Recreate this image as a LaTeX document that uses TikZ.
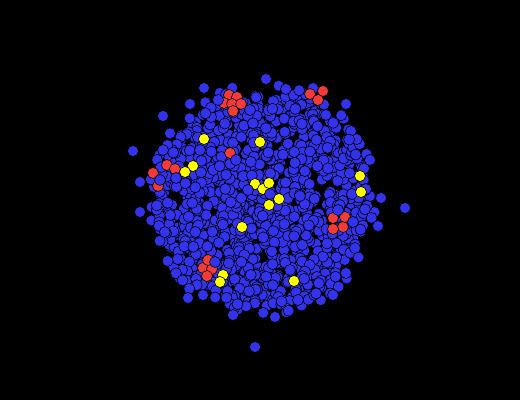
\documentclass[tikz,border=0pt]{standalone}
\definecolor{nodeblue}{RGB}{51,51,238}
\definecolor{nodered}{RGB}{245,58,58}
\definecolor{nodeyellow}{RGB}{255,255,0}
\tikzset{
  vtx/.style={circle, draw=black, line width=0.6pt, minimum size=11pt, inner sep=0pt},
  bvtx/.style={vtx, fill=nodeblue},
  rvtx/.style={vtx, fill=nodered},
  yvtx/.style={vtx, fill=nodeyellow}
}

\begin{document}
\begin{tikzpicture}[x=1pt,y=-1pt]
        \fill[black] (0,0) rectangle (520,400);
        % main cloud
        \pgfmathsetseed{7}
        \foreach \i in {1,...,1100}{
            \pgfmathsetmacro{\ang}{360*rnd}
            \pgfmathsetmacro{\rad}{sqrt(rnd)}
            \node[bvtx] (b\i) at ({263+104*\rad*cos(\ang)},{200+106*\rad*sin(\ang)}) {};
        }
        % ragged rim
        \foreach \i in {1,...,110}{
            \pgfmathsetmacro{\ang}{360*rnd}
            \pgfmathsetmacro{\rad}{0.97+0.13*rnd}
            \node[bvtx] (e\i) at ({263+104*\rad*cos(\ang)},{200+106*\rad*sin(\ang)}) {};
        }
        % outliers
        \foreach \x/\y [count=\j] in {133/151, 405/208, 255/347, 204/88, 266/79, 346/104, 140/182,
            381/198, 378/226, 140/212, 190/104, 370/160, 333/295, 298/300, 275/317, 233/315,
            188/298, 203/295, 163/116, 346/273, 355/248, 163/150, 313/88, 286/89}{
            \node[bvtx] (o\j) at (\x,\y) {};
        }
        % red groups
        \foreach \x/\y [count=\j] in {229/95, 237/97, 224/103, 232/104, 241/104, 233/111,
            310/94, 323/91, 318/100, 230/153, 153/173, 158/186, 167/165, 175/169,
            203/268, 212/269, 207/276, 208/260, 333/218, 343/227, 333/229, 345/217}{
            \node[rvtx] (r\j) at (\x,\y) {};
        }
        % yellow groups
        \foreach \x/\y [count=\j] in {204/139, 193/166, 185/172, 260/142, 255/184, 263/189,
            269/183, 279/199, 269/205, 360/176, 361/192, 223/275, 220/282, 294/281, 242/227}{
            \node[yvtx] (y\j) at (\x,\y) {};
        }
        % a few blue on top
        \foreach \x/\y [count=\j] in {236/160, 248/190, 270/194, 338/210, 200/150, 215/262,
            290/270, 176/178, 250/110, 300/196, 353/222, 160/180, 218/100}{
            \node[bvtx] (t\j) at (\x,\y) {};
        }
\end{tikzpicture}
\end{document}
